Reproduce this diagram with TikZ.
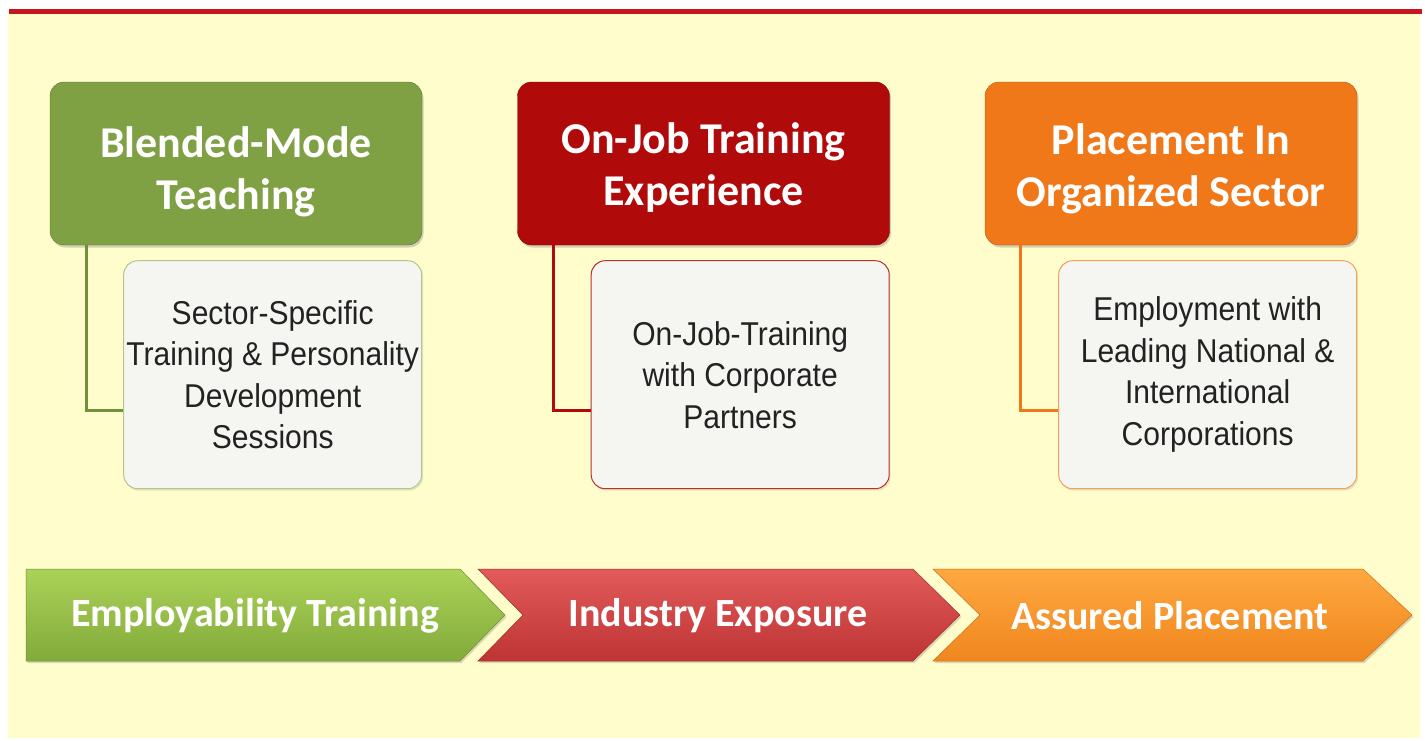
\documentclass[tikz,border=0pt]{standalone}
\usepackage{fontspec}
\setmainfont{Carlito}
\newfontfamily\narrowfont[FakeStretch=0.91]{Liberation Sans}
\usetikzlibrary{positioning,shadows}

\definecolor{bgyellow}{HTML}{FFFDCB}
\definecolor{topred}{HTML}{C8161E}
\definecolor{hgreen}{HTML}{80A044}
\definecolor{hred}{HTML}{B00A0A}
\definecolor{horange}{HTML}{F07818}
\definecolor{boxfill}{HTML}{F5F5F1}
\definecolor{boxtext}{HTML}{222222}
\definecolor{cgreentop}{HTML}{ABD258}
\definecolor{cgreenbot}{HTML}{82AA3A}
\definecolor{credtop}{HTML}{E25A5A}
\definecolor{credbot}{HTML}{BE3434}
\definecolor{corangetop}{HTML}{FFA840}
\definecolor{corangebot}{HTML}{F0861E}

\tikzset{
  headbox/.style={draw=#1!75!black, fill=#1, rounded corners=14pt,
    minimum width=372pt, minimum height=163pt,
    drop shadow={opacity=0.35,shadow xshift=1.5pt,shadow yshift=-2.5pt}},
  headtext/.style={text=white, align=center, font=\bfseries\fontsize{44}{52}\selectfont},
  detailbox/.style={draw=#1, fill=boxfill, rounded corners=14pt, line width=1pt,
    inner sep=0pt, minimum width=298pt, minimum height=228pt, text=boxtext, align=center,
    font=\narrowfont\fontsize{33}{41.5}\selectfont,
    drop shadow={opacity=0.2,shadow xshift=1.5pt,shadow yshift=-2pt}},
  link/.style={draw=#1, line width=3pt},
  arrowlabel/.style={text=white, font=\bfseries\fontsize{40}{44}\selectfont},
  chevron/.style 2 args={top color=#1, bottom color=#2, draw=#2!85!black, line width=0.5pt,
    drop shadow={opacity=0.3,shadow xshift=1.5pt,shadow yshift=-2pt}},
}

\begin{document}
\begin{tikzpicture}[x=1pt,y=-1pt]
  % page and backdrop
  \useasboundingbox (0,0) rectangle (1425,740);
  \fill[white] (0,0) rectangle (1425,740);
  \fill[bgyellow] (8,13) rectangle (1420,738);
  \fill[topred] (9,9) rectangle (1422,13.5);

  % top row
  \node[headbox=hgreen]  (blend)  at (236,163.5)  {};
  \node[headbox=hred]    (ojt)    at (703.5,163.5) {};
  \node[headbox=horange] (place)  at (1171,163.5) {};
  \node[headtext] (blendtxt) at ([yshift=-8pt]blend)  {Blended-Mode\\Teaching};
  \node[headtext] (ojttxt)   at ([yshift=-4pt]ojt)    {On-Job Training\\Experience};
  \node[headtext] (placetxt) at ([yshift=-5pt]place)  {Placement In\\Organized Sector};

  % detail boxes
  \node[detailbox=hgreen!60, anchor=north east] (sessions) at ([yshift=-15pt]blend.south east)
    {Sector-Specific\\Training \& Personality\\Development\\Sessions};
  \node[detailbox=hred!85, anchor=north east] (partners) at ([yshift=-15pt]ojt.south east)
    {On-Job-Training\\with Corporate\\Partners};
  \node[detailbox=horange!70, anchor=north east] (corps) at ([yshift=-15pt]place.south east)
    {Employment with\\Leading National \&\\International\\Corporations};

  % connectors
  \draw[link=hgreen!90!black]  ([xshift=37pt]blend.south west) |- ([yshift=-36pt]sessions.west);
  \draw[link=hred]             ([xshift=36pt]ojt.south west)   |- ([yshift=-36pt]partners.west);
  \draw[link=horange]          ([xshift=36pt]place.south west) |- ([yshift=-36pt]corps.west);

  % process arrows
  \path[chevron={cgreentop}{cgreenbot}]
    (26,569) -- (460,569) -- (505,615) -- (460,661) -- (26,661) -- cycle;
  \path[chevron={credtop}{credbot}]
    (478,569) -- (913,569) -- (960,615) -- (913,661) -- (478,661) -- (523,615) -- cycle;
  \path[chevron={corangetop}{corangebot}]
    (933,569) -- (1363,569) -- (1412,615) -- (1363,661) -- (933,661) -- (980,615) -- cycle;

  \node[arrowlabel] (train)  at (255,616)  {Employability Training};
  \node[arrowlabel] (expo)   at (718,616)  {Industry Exposure};
  \node[arrowlabel] (assure) at (1170,616) {Assured Placement};
\end{tikzpicture}
\end{document}
